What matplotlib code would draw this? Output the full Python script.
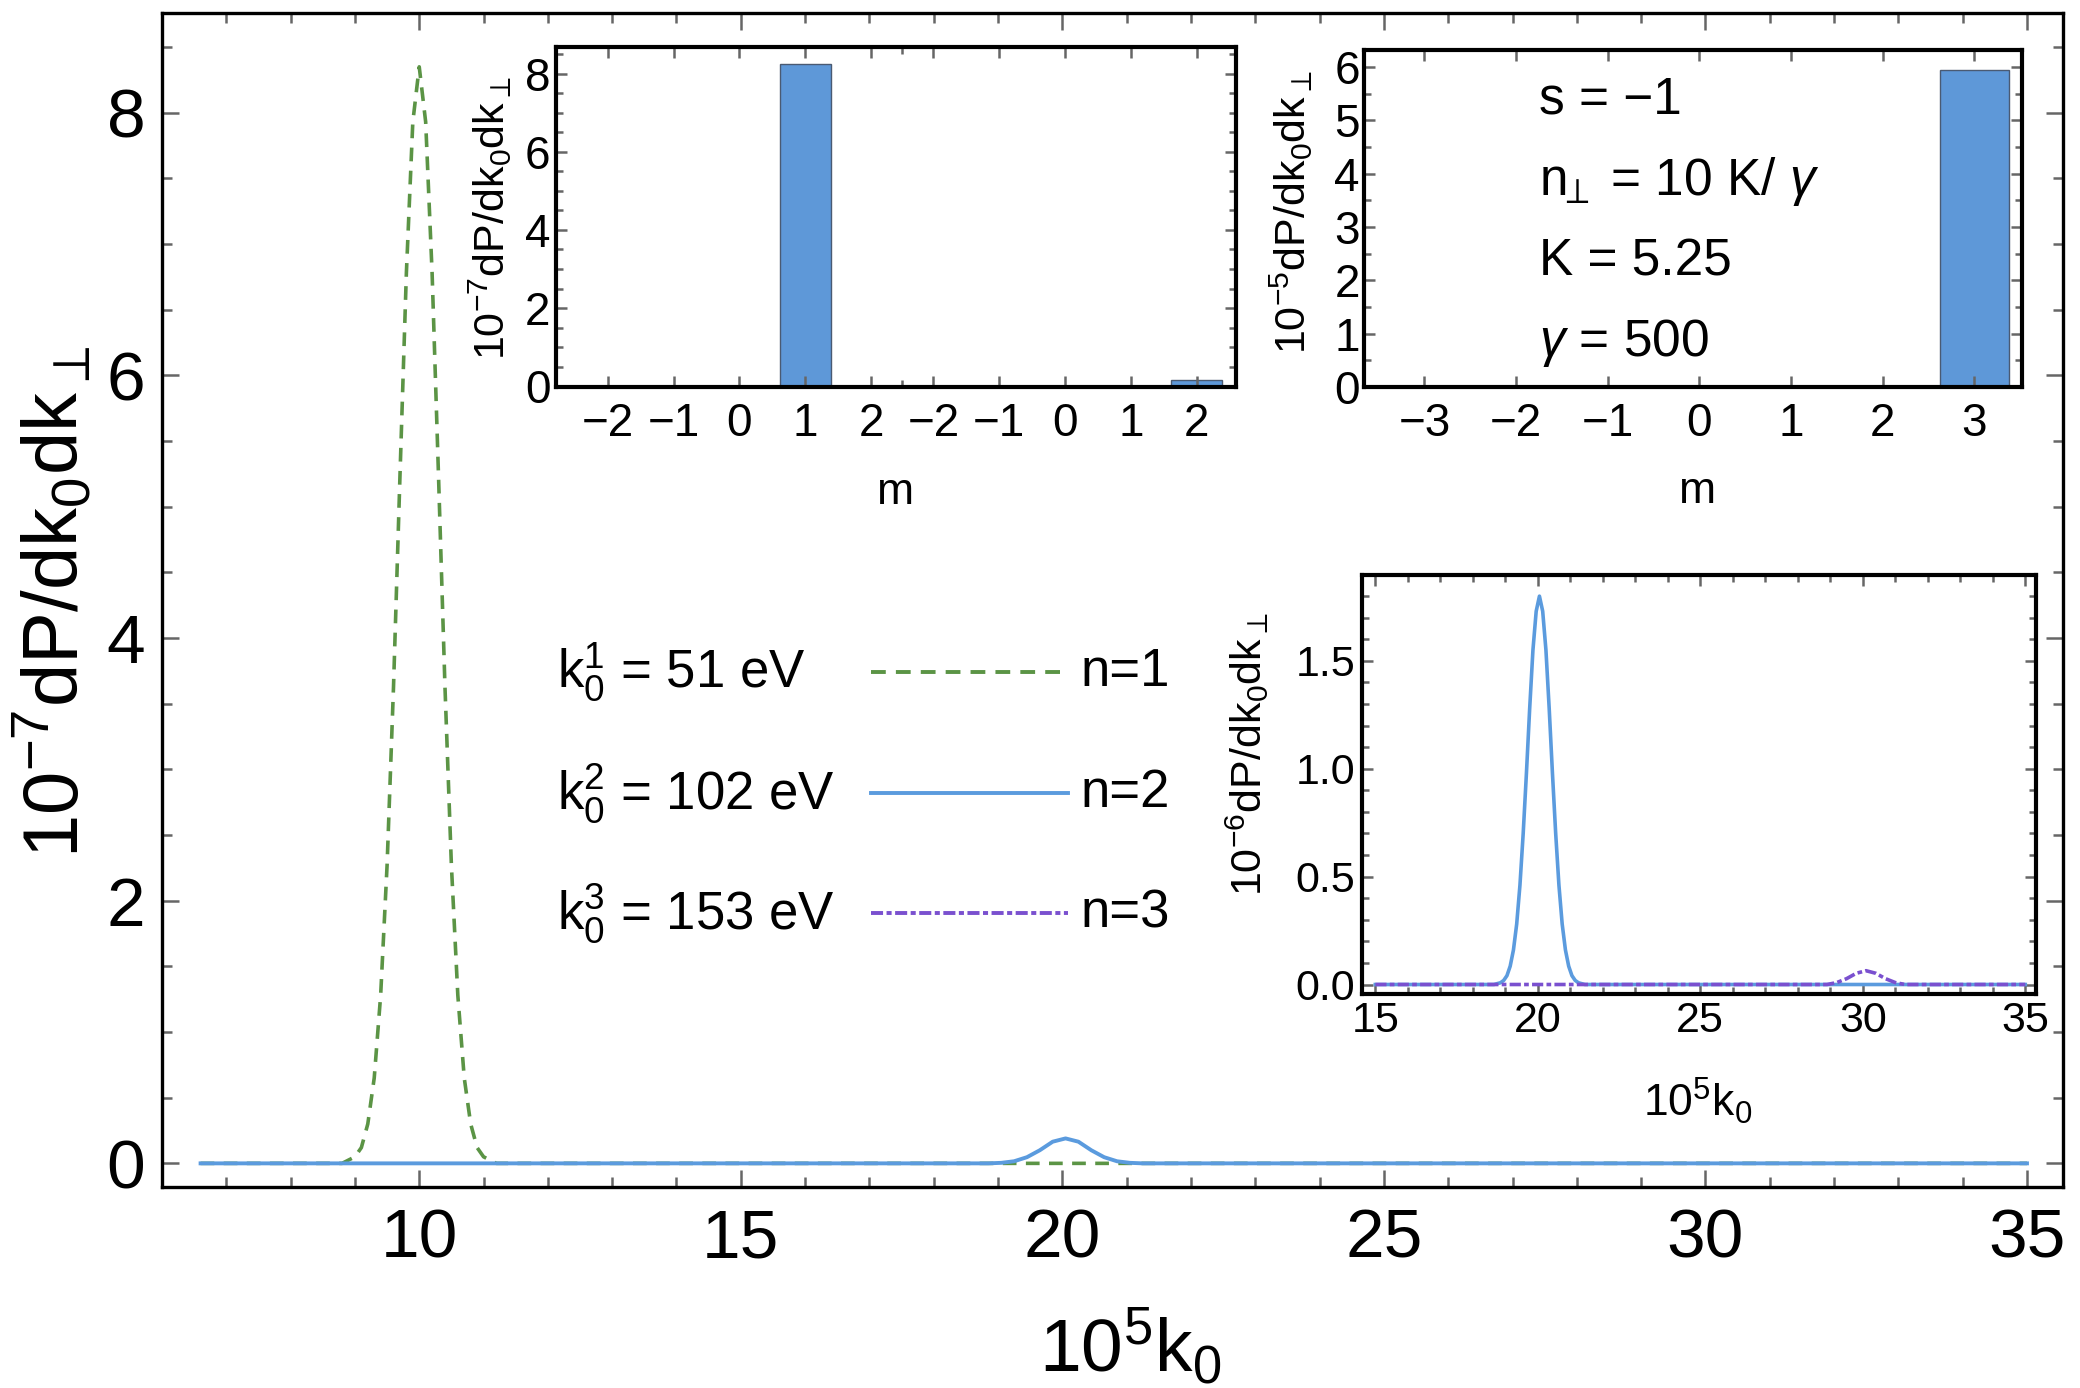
import numpy as np
import matplotlib
matplotlib.use("Agg")
import matplotlib.pyplot as plt
from matplotlib.lines import Line2D
from matplotlib.ticker import MultipleLocator, FixedLocator

plt.rcParams["font.family"] = ["Liberation Sans", "DejaVu Sans"]
plt.rcParams["mathtext.fontset"] = "custom"
plt.rcParams["mathtext.rm"] = "Liberation Sans"
plt.rcParams["mathtext.it"] = "Liberation Sans:italic"
plt.rcParams["mathtext.default"] = "regular"
plt.rcParams["mathtext.fallback"] = "stixsans"

# ---- data ----
# main panel, n=1 harmonic (green dashed), 10^-7 units
k0_main_n1 = [6.6, 8.8, 9.0, 9.1, 9.2, 9.3, 9.4, 9.5, 9.6, 9.7, 9.8, 9.9, 10.0,
              10.1, 10.2, 10.3, 10.4, 10.5, 10.6, 10.7, 10.8, 10.9, 11.0, 11.2, 35.0]
dP_main_n1 = [0, 0, 0.05, 0.12, 0.30, 0.65, 1.28, 2.27, 3.63, 5.23, 6.78, 7.93, 8.35,
              7.93, 6.78, 5.23, 3.63, 2.27, 1.28, 0.65, 0.30, 0.12, 0.05, 0, 0]
# main panel, n=2 harmonic (blue solid)
k0_main_n2 = [6.6, 18.85, 19.05, 19.25, 19.45, 19.65, 19.85, 20.05, 20.25, 20.45,
              20.65, 20.85, 21.05, 21.25, 35.0]
dP_main_n2 = [0, 0, 0.004, 0.016, 0.047, 0.10, 0.165, 0.19, 0.165, 0.10,
              0.047, 0.016, 0.004, 0, 0]

# inset (bottom right), 10^-6 units
k0_ins_n2 = [15.0, 18.65, 18.85, 18.95, 19.05, 19.15, 19.25, 19.35, 19.45, 19.55, 19.65,
             19.75, 19.85, 19.95, 20.05, 20.15, 20.25, 20.35, 20.45, 20.55, 20.65,
             20.75, 20.85, 20.95, 21.05, 21.15, 21.25, 21.45, 35.0]
dP_ins_n2 = [0, 0, 0.008, 0.019, 0.041, 0.085, 0.16, 0.28, 0.46, 0.70, 0.98,
             1.28, 1.55, 1.73, 1.80, 1.73, 1.55, 1.28, 0.98, 0.70, 0.46,
             0.28, 0.16, 0.085, 0.041, 0.019, 0.008, 0, 0]
k0_ins_n3 = [15.0, 28.9, 29.2, 29.5, 29.8, 30.1, 30.4, 30.7, 31.0, 31.3, 35.0]
dP_ins_n3 = [0, 0, 0.009, 0.027, 0.052, 0.064, 0.052, 0.027, 0.009, 0, 0]

# bar insets
m_left = [-2, -1, 0, 1, 2]
bars_left_a = [0, 0, 0, 8.24, 0]      # 10^-7
bars_left_b = [0, 0, 0, 0, 0.15]
m_right = [-3, -2, -1, 0, 1, 2, 3]
bars_right = [0, 0, 0, 0, 0, 0, 5.95]  # 10^-5

legend_lhs = [r"$k_0^1$ = 51 eV", r"$k_0^2$ = 102 eV", r"$k_0^3$ = 153 eV"]
legend_rhs = ["n=1", "n=2", "n=3"]
params = ["s = \u22121", r"$n_{\!\!\perp}$ = 10 K/ $\mathit{\gamma}$", "K = 5.25",
          r"$\mathit{\gamma}$ = 500"]

GREEN = "#5b9445"
BLUE = "#5b9bde"
PURPLE = "#7a50cf"
BAR = "#5e98d8"
W, H = 2080, 1388


def fx(px):
    return px / W


def fy(py):
    return 1 - py / H


def rect(l, t, r, b):
    return [fx(l), fy(b), (r - l) / W, (b - t) / H]


def frame(ax, lw=2.4, maj=11, mnr=6, size=30, pad=6):
    for s in ax.spines.values():
        s.set_linewidth(lw)
        s.set_color("black")
    ax.tick_params(which="both", direction="in", top=True, right=True,
                   color="#666666", width=1.8, labelsize=size, pad=pad)
    ax.tick_params(which="major", length=maj)
    ax.tick_params(which="minor", length=mnr)


def minus(vals):
    return [f"{v}".replace("-", "\u2212") for v in vals]


fig = plt.figure(figsize=(W / 100, H / 100), dpi=100)
fig.patch.set_facecolor("white")

# ---- main panel ----
ax = fig.add_axes(rect(162, 13, 2063, 1187))
ax.plot(k0_main_n1, dP_main_n1, color=GREEN, lw=2.6, ls=(0, (3.8, 2.6)),
        dash_capstyle="butt")
ax.plot(k0_main_n2, dP_main_n2, color=BLUE, lw=2.8)
ax.set_xlim(6.0, 35.56)
ax.set_ylim(-0.18, 8.76)
ax.xaxis.set_major_locator(MultipleLocator(5))
ax.xaxis.set_minor_locator(MultipleLocator(1))
ax.yaxis.set_major_locator(MultipleLocator(2))
ax.yaxis.set_minor_locator(MultipleLocator(0.5))
frame(ax, lw=2.4, maj=12, mnr=7, size=50, pad=12)
ax.tick_params(axis="x", pad=15)
ax.set_xticks([10, 15, 20, 25, 30, 35])
ax.set_yticks([0, 2, 4, 6, 8])
fig.text(fx(54), fy(602), r"$10^{-7}dP/dk_0dk_\perp$", rotation=90,
         ha="center", va="center", fontsize=56)
fig.text(fx(1130), fy(1346), r"$10^5k_0$", ha="center", va="center", fontsize=54)

# legend drawn by hand (three rows)
for i, (lhs, rhs, col, ls) in enumerate(zip(
        legend_lhs, legend_rhs, [GREEN, BLUE, PURPLE],
        [(0, (3.8, 2.6)), "-", (0, (3.1, 0.9, 1.3, 0.9))])):
    yy = [672, 793, 913][i]
    fig.text(fx(557), fy(yy), lhs, ha="left", va="center", fontsize=38)
    fig.add_artist(Line2D([fx(871), fx(1068)], [fy(yy), fy(yy)], color=col,
                          lw=2.8, ls=ls, dash_capstyle="butt"))
    fig.text(fx(1081), fy(yy), rhs, ha="left", va="center", fontsize=38)

# ---- top-left bar inset ----
a1 = fig.add_axes(rect(556, 47, 1236, 387))
pos_a = np.arange(len(m_left))
pos_b = pos_a + 4.95
a1.bar(pos_a, bars_left_a, width=0.775, color=BAR, edgecolor="#4a5a72", lw=1.0)
a1.bar(pos_b, bars_left_b, width=0.775, color=BAR, edgecolor="#4a5a72", lw=1.0)
a1.set_xlim(-0.79, 9.55)
a1.set_ylim(-0.02, 8.68)
a1.set_xticks(np.concatenate([pos_a, pos_b]), minus(m_left + m_left))
a1.xaxis.set_minor_locator(FixedLocator([4.47]))
a1.yaxis.set_major_locator(MultipleLocator(2))
a1.yaxis.set_minor_locator(MultipleLocator(0.5))
frame(a1, lw=3.0, maj=8, mnr=5, size=33, pad=4)
a1.tick_params(axis="x", pad=11)
fig.text(fx(490), fy(218), r"$10^{-7}dP/dk_0dk_\perp$", rotation=90,
         ha="center", va="center", fontsize=31)
fig.text(fx(896), fy(493), "m", ha="center", va="center", fontsize=32)

# ---- top-right bar inset ----
a2 = fig.add_axes(rect(1364, 50, 2022, 387))
a2.bar(m_right, bars_right, width=0.76, color=BAR, edgecolor="#4a5a72", lw=1.0)
a2.set_xlim(-3.66, 3.52)
a2.set_ylim(0, 6.32)
a2.set_xticks(m_right, minus(m_right))
a2.yaxis.set_major_locator(MultipleLocator(1))
a2.yaxis.set_minor_locator(MultipleLocator(0.5))
frame(a2, lw=3.0, maj=8, mnr=5, size=33, pad=3)
a2.tick_params(axis="x", pad=11)
for txt, yy in zip(params, [0.853, 0.61, 0.37, 0.13]):
    a2.text(0.266, yy, txt, transform=a2.transAxes, ha="left", va="center",
            fontsize=37)
fig.text(fx(1291), fy(212), r"$10^{-5}dP/dk_0dk_\perp$", rotation=90,
         ha="center", va="center", fontsize=31)
fig.text(fx(1698), fy(491), "m", ha="center", va="center", fontsize=32)

# ---- bottom-right curve inset ----
a3 = fig.add_axes(rect(1362, 575, 2036, 994))
a3.plot(k0_ins_n2, dP_ins_n2, color=BLUE, lw=2.6)
a3.plot(k0_ins_n3, dP_ins_n3, color=PURPLE, lw=2.6,
        ls=(0, (3.1, 0.9, 1.3, 0.9)), dash_capstyle="butt")
a3.set_xlim(14.59, 35.33)
a3.set_ylim(-0.044, 1.898)
a3.xaxis.set_major_locator(MultipleLocator(5))
a3.xaxis.set_minor_locator(MultipleLocator(1))
a3.yaxis.set_major_locator(MultipleLocator(0.5))
a3.yaxis.set_minor_locator(MultipleLocator(0.1))
a3.yaxis.set_major_formatter(matplotlib.ticker.FormatStrFormatter("%.1f"))
frame(a3, lw=3.0, maj=8, mnr=5, size=31, pad=5)
fig.text(fx(1247), fy(754), r"$10^{-6}dP/dk_0dk_\perp$", rotation=90,
         ha="center", va="center", fontsize=31)
fig.text(fx(1698), fy(1101), r"$10^5k_0$", ha="center", va="center", fontsize=32)

fig.savefig("out.png", dpi=100, facecolor="white")
